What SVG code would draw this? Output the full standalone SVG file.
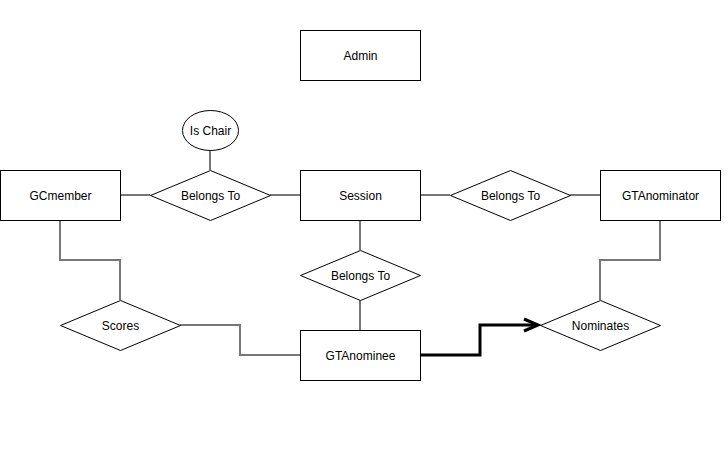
<svg xmlns="http://www.w3.org/2000/svg" width="728" height="450" viewBox="0 0 728 450">
<style>
.box{fill:#fff;stroke:#000;stroke-width:1}
.lbl{font-family:"Liberation Sans",Arial,sans-serif;font-size:12px;fill:#000;text-anchor:middle;dominant-baseline:central}
.conn{fill:none;stroke:#777;stroke-width:2}
.thick{fill:none;stroke:#000;stroke-width:3}
</style>
<rect width="728" height="450" fill="#fff"/>
<g id="connectors">
<path class="conn" d="M120,195H150"/>
<path class="conn" d="M270,195H300"/>
<path class="conn" d="M420,195H450"/>
<path class="conn" d="M570,195H600"/>
<path class="conn" d="M210,150V170"/>
<path class="conn" d="M360,220V250"/>
<path class="conn" d="M360,300V330"/>
<path class="conn" d="M60,220V260H120V300"/>
<path class="conn" d="M180,325H240V355H300"/>
<path class="conn" d="M660,220V260H600V300"/>
<path class="thick" d="M420,355H480V325H536"/>
<path class="thick" d="M524,319L538,325L524,331"/>
</g>
<g id="admin"><rect class="box" x="300.5" y="30.5" width="120" height="50"/><text class="lbl" x="360.5" y="55.5">Admin</text></g>
<g id="gcmember"><rect class="box" x="0.5" y="170.5" width="120" height="50"/><text class="lbl" x="60.5" y="195.5">GCmember</text></g>
<g id="session"><rect class="box" x="300.5" y="170.5" width="120" height="50"/><text class="lbl" x="360.5" y="195.5">Session</text></g>
<g id="gtanominator"><rect class="box" x="600.5" y="170.5" width="120" height="50"/><text class="lbl" x="660.5" y="195.5">GTAnominator</text></g>
<g id="gtanominee"><rect class="box" x="300.5" y="330.5" width="120" height="50"/><text class="lbl" x="360.5" y="355.5">GTAnominee</text></g>
<g id="ischair"><ellipse class="box" cx="210.5" cy="130.5" rx="28" ry="20"/><text class="lbl" x="210.5" y="130.5">Is Chair</text></g>
<g id="belongsto-left"><polygon class="box" points="150.5,195.5 210.5,170.5 270.5,195.5 210.5,220.5"/><text class="lbl" x="210.5" y="195.5">Belongs To</text></g>
<g id="belongsto-right"><polygon class="box" points="450.5,195.5 510.5,170.5 570.5,195.5 510.5,220.5"/><text class="lbl" x="510.5" y="195.5">Belongs To</text></g>
<g id="belongsto-mid"><polygon class="box" points="300.5,275.5 360.5,250.5 420.5,275.5 360.5,300.5"/><text class="lbl" x="360.5" y="275.5">Belongs To</text></g>
<g id="scores"><polygon class="box" points="60.5,325.5 120.5,300.5 180.5,325.5 120.5,350.5"/><text class="lbl" x="120.5" y="325.5">Scores</text></g>
<g id="nominates"><polygon class="box" points="540.5,325.5 600.5,300.5 660.5,325.5 600.5,350.5"/><text class="lbl" x="600.5" y="325.5">Nominates</text></g>
</svg>
